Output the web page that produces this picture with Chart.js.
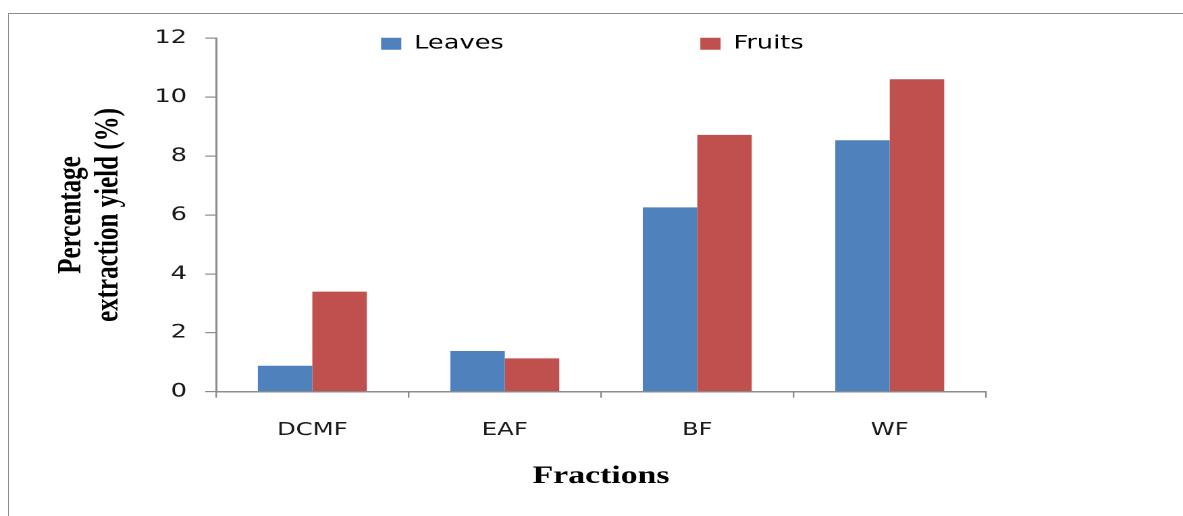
<!DOCTYPE html>
<html><head><meta charset="utf-8">
<script src="https://cdn.jsdelivr.net/npm/chart.js@4/dist/chart.umd.min.js"></script>
<style>
html,body{margin:0;padding:0;background:#fff;overflow:hidden;width:1183px;height:516px}
#frame{position:absolute;left:8px;top:13px;width:1400px;height:700px;border-top:1.5px solid #8c8c8c;border-left:1.5px solid #8c8c8c}
#wrap{position:absolute;left:0;top:0;width:876px;height:516px;transform:scaleX(1.35046);transform-origin:0 0}
canvas{display:block}
</style></head><body>
<div id="frame"></div>
<div id="wrap"><canvas id="c" style="width:876px;height:516px"></canvas></div>
<script>
const categories = ['DCMF', 'EAF', 'BF', 'WF'];
const seriesNames = ['Leaves', 'Fruits'];
const leaves = [0.88, 1.38, 6.26, 8.54];
const fruits = [3.40, 1.13, 8.72, 10.61];
const yTicks = [0, 2, 4, 6, 8, 10, 12];
const xTitle = 'Fractions';
const yTitle = ['Percentage', 'extraction yield (%)'];

const legendShift = {
  id: 'legendShift',
  afterLayout(chart) {
    const lg = chart.legend; if (!lg) return;
    const pad = lg.options.labels.padding;
    const fs = lg.options.labels.font.size;
    const dy = 22 - (lg.top + pad + fs / 2);
    lg.top += dy; lg.bottom += dy;
    const dx = 421.7 - (lg.left + lg.right) / 2;
    lg.left += dx; lg.right += dx;
  }
};

new Chart(document.getElementById('c'), {
  type: 'bar',
  data: {
    labels: categories,
    datasets: [
      { label: seriesNames[0], data: leaves, backgroundColor: '#4F81BD', borderWidth: 0 },
      { label: seriesNames[1], data: fruits, backgroundColor: '#C0504D', borderWidth: 0 }
    ]
  },
  plugins: [legendShift],
  options: {
    responsive: false,
    devicePixelRatio: 2,
    animation: false,
    datasets: { bar: { categoryPercentage: 0.566, barPercentage: 1 } },
    layout: { padding: { left: 0, top: 38.3, right: 145.9, bottom: 14.3 } },
    plugins: {
      tooltip: { enabled: false },
      legend: {
        position: 'chartArea',
        align: 'center',
        labels: {
          boxWidth: 15, boxHeight: 12, padding: 145.5,
          color: '#000',
          font: { family: 'DejaVu Sans', size: 19 }
        }
      }
    },
    scales: {
      x: {
        grid: { display: true, drawOnChartArea: false, drawTicks: true, tickLength: 6, color: '#8c8c8c', lineWidth: 1.2, offset: true },
        border: { display: true, color: '#8c8c8c', width: 1.5 },
        ticks: { font: { family: 'DejaVu Sans', size: 18 }, color: '#1a1a1a', padding: 22, maxRotation: 0 },
        title: { display: true, text: xTitle, color: '#000', font: { family: 'Liberation Serif', size: 25, weight: 'bold', lineHeight: 1.2 }, padding: { top: 0, bottom: 10 } },
        afterFit(s) { s.height = 110; }
      },
      y: {
        min: 0, max: 12,
        afterBuildTicks(s) { s.ticks = yTicks.map(v => ({ value: v })); },
        grid: { drawOnChartArea: false, drawTicks: true, tickLength: 8, color: '#8c8c8c', lineWidth: 1.2 },
        border: { display: true, color: '#8c8c8c', width: 1.5 },
        ticks: { font: { family: 'DejaVu Sans', size: 19 }, color: '#1a1a1a', padding: 13.5 },
        title: { display: true, text: yTitle, color: '#000', font: { family: 'Liberation Serif', size: 25, weight: 'bold', lineHeight: 1.1 }, padding: { top: 39.25, bottom: 0 } },
        afterFit(s) { s.width = 160; }
      }
    }
  }
});
</script>
</body></html>
